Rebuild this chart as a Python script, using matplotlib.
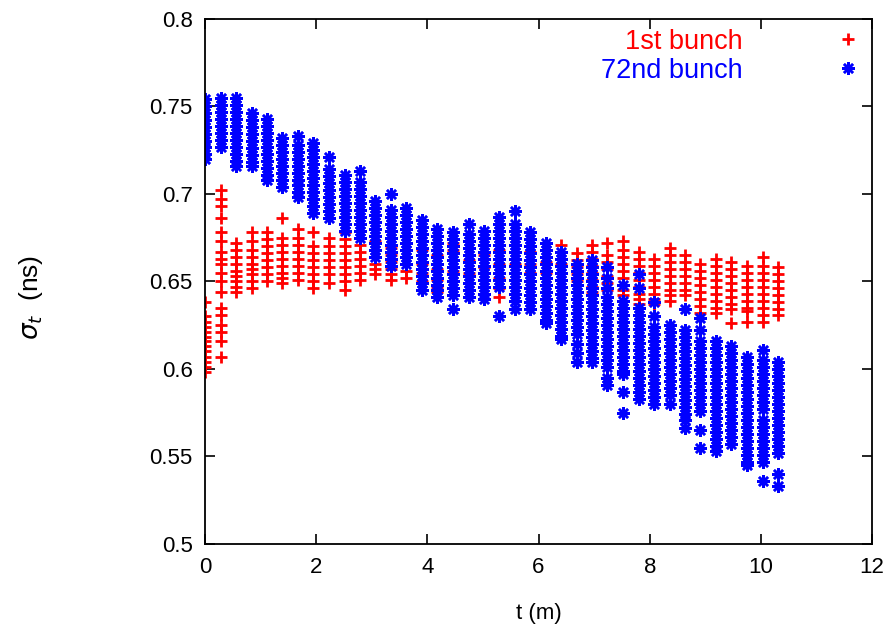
import numpy as np
import matplotlib
matplotlib.use('Agg')
import matplotlib.pyplot as plt

plt.rcParams['font.family'] = ['Liberation Sans', 'DejaVu Sans']

# turn times (minutes), one column of bunch-length samples per turn
t_min = [0.00, 0.28, 0.56, 0.84, 1.11, 1.39, 1.67, 1.95, 2.23, 2.51,
         2.79, 3.06, 3.34, 3.62, 3.90, 4.18, 4.46, 4.74, 5.01, 5.29,
         5.57, 5.85, 6.13, 6.41, 6.69, 6.96, 7.24, 7.52, 7.80, 8.08,
         8.36, 8.64, 8.91, 9.19, 9.47, 9.75, 10.03, 10.31]

# sigma_t (ns) of the 1st bunch
sig_first = [
    [0.638, 0.630, 0.627, 0.624, 0.621, 0.618, 0.616, 0.613, 0.610, 0.607, 0.604, 0.601, 0.598],
    [0.702, 0.697, 0.693, 0.686, 0.678, 0.673, 0.667, 0.663, 0.660, 0.655, 0.650, 0.644, 0.635,
     0.631, 0.625, 0.621, 0.616, 0.607],
    [0.672, 0.668, 0.664, 0.660, 0.656, 0.653, 0.650, 0.647, 0.644],
    [0.678, 0.673, 0.668, 0.664, 0.660, 0.657, 0.654, 0.650, 0.646],
    [0.678, 0.674, 0.670, 0.666, 0.662, 0.658, 0.654, 0.650],
    [0.686, 0.675, 0.671, 0.667, 0.663, 0.659, 0.655, 0.652, 0.649],
    [0.680, 0.675, 0.671, 0.667, 0.663, 0.659, 0.655, 0.651],
    [0.678, 0.670, 0.666, 0.662, 0.658, 0.654, 0.650, 0.646],
    [0.675, 0.670, 0.666, 0.662, 0.658, 0.654, 0.649],
    [0.678, 0.674, 0.670, 0.666, 0.662, 0.658, 0.654, 0.650, 0.645],
    [0.675, 0.671, 0.667, 0.663, 0.659, 0.655, 0.651],
    [0.673, 0.668, 0.664, 0.660, 0.657, 0.654],
    [0.669, 0.665, 0.661, 0.657, 0.654, 0.651],
    [0.668, 0.664, 0.660, 0.656, 0.652],
    [0.668, 0.660, 0.655, 0.650],
    [0.665, 0.657, 0.651, 0.647, 0.644],
    [0.672, 0.668, 0.662, 0.656],
    [0.662, 0.655],
    [0.665, 0.658],
    [0.668, 0.660, 0.652, 0.646, 0.641],
    [0.675, 0.667, 0.660],
    [0.667, 0.660, 0.655],
    [0.668, 0.661, 0.655],
    [0.671, 0.667, 0.663, 0.660],
    [0.666, 0.662, 0.658, 0.654, 0.650],
    [0.671, 0.667, 0.663, 0.659, 0.655, 0.651, 0.647, 0.644],
    [0.672, 0.665, 0.661, 0.657, 0.653, 0.649, 0.645, 0.641],
    [0.673, 0.668, 0.664, 0.660, 0.656, 0.652, 0.648, 0.645, 0.642],
    [0.667, 0.663, 0.659, 0.655, 0.651, 0.647, 0.643, 0.640, 0.637],
    [0.663, 0.659, 0.655, 0.651, 0.647, 0.643, 0.640, 0.637],
    [0.669, 0.665, 0.661, 0.657, 0.653, 0.649, 0.645, 0.642, 0.639],
    [0.665, 0.661, 0.657, 0.653, 0.649, 0.645, 0.642],
    [0.660, 0.656, 0.652, 0.648, 0.644, 0.640, 0.636, 0.632],
    [0.663, 0.659, 0.655, 0.651, 0.647, 0.643, 0.639, 0.635, 0.632],
    [0.661, 0.657, 0.653, 0.649, 0.645, 0.641, 0.637, 0.634, 0.626],
    [0.659, 0.655, 0.651, 0.647, 0.643, 0.639, 0.635, 0.633, 0.627],
    [0.664, 0.659, 0.655, 0.651, 0.647, 0.643, 0.639, 0.635, 0.631, 0.627],
    [0.658, 0.654, 0.650, 0.646, 0.642, 0.638, 0.634, 0.631],
]

# sigma_t (ns) of the 72nd bunch
sig_72nd = [
    [0.754, 0.750, 0.746, 0.742, 0.738, 0.734, 0.730, 0.727, 0.723, 0.720],
    [0.755, 0.751, 0.747, 0.743, 0.739, 0.735, 0.731, 0.727],
    [0.755, 0.751, 0.747, 0.743, 0.739, 0.735, 0.731, 0.727, 0.723, 0.719, 0.716],
    [0.746, 0.742, 0.738, 0.734, 0.730, 0.726, 0.722, 0.718, 0.716],
    [0.743, 0.739, 0.735, 0.731, 0.727, 0.723, 0.719, 0.715, 0.711, 0.708],
    [0.732, 0.728, 0.724, 0.720, 0.716, 0.712, 0.708, 0.704],
    [0.733, 0.728, 0.724, 0.720, 0.716, 0.712, 0.708, 0.705, 0.701, 0.698],
    [0.729, 0.725, 0.721, 0.717, 0.713, 0.709, 0.705, 0.701, 0.697, 0.693, 0.689],
    [0.721, 0.714, 0.710, 0.706, 0.702, 0.698, 0.694, 0.690, 0.686],
    [0.711, 0.707, 0.703, 0.699, 0.695, 0.691, 0.687, 0.683, 0.679],
    [0.713, 0.707, 0.703, 0.699, 0.695, 0.691, 0.687, 0.683, 0.679, 0.675],
    [0.696, 0.692, 0.688, 0.684, 0.680, 0.676, 0.672, 0.668, 0.664],
    [0.700, 0.691, 0.687, 0.683, 0.679, 0.675, 0.671, 0.667, 0.663, 0.659],
    [0.692, 0.688, 0.684, 0.680, 0.676, 0.672, 0.668, 0.664, 0.660],
    [0.685, 0.681, 0.677, 0.673, 0.669, 0.665, 0.661, 0.657, 0.653, 0.649, 0.645],
    [0.680, 0.676, 0.672, 0.668, 0.664, 0.660, 0.656, 0.652, 0.648, 0.645, 0.641],
    [0.678, 0.674, 0.670, 0.666, 0.662, 0.658, 0.654, 0.650, 0.646, 0.642, 0.634],
    [0.683, 0.677, 0.673, 0.669, 0.665, 0.661, 0.657, 0.653, 0.649, 0.645, 0.641],
    [0.679, 0.675, 0.671, 0.667, 0.663, 0.659, 0.655, 0.651, 0.647, 0.643, 0.640],
    [0.687, 0.683, 0.679, 0.675, 0.671, 0.667, 0.663, 0.659, 0.655, 0.651, 0.647, 0.630],
    [0.690, 0.683, 0.679, 0.675, 0.671, 0.667, 0.663, 0.659, 0.655, 0.651, 0.647, 0.643,
     0.639, 0.634],
    [0.678, 0.674, 0.670, 0.666, 0.662, 0.658, 0.654, 0.650, 0.646, 0.642, 0.638, 0.634],
    [0.672, 0.668, 0.664, 0.660, 0.656, 0.652, 0.648, 0.644, 0.640, 0.636, 0.632, 0.628, 0.626],
    [0.667, 0.663, 0.659, 0.655, 0.651, 0.647, 0.643, 0.639, 0.635, 0.631, 0.627, 0.623,
     0.619, 0.617],
    [0.660, 0.656, 0.652, 0.648, 0.644, 0.640, 0.636, 0.632, 0.628, 0.624, 0.620, 0.614,
     0.609, 0.604],
    [0.662, 0.658, 0.654, 0.650, 0.646, 0.642, 0.638, 0.634, 0.630, 0.626, 0.622, 0.618,
     0.614, 0.610, 0.606, 0.604],
    [0.658, 0.652, 0.646, 0.641, 0.637, 0.633, 0.629, 0.625, 0.621, 0.617, 0.613, 0.609,
     0.605, 0.601, 0.595, 0.591],
    [0.648, 0.639, 0.635, 0.631, 0.627, 0.623, 0.619, 0.615, 0.611, 0.607, 0.603, 0.599,
     0.597, 0.587, 0.575],
    [0.654, 0.646, 0.635, 0.631, 0.627, 0.623, 0.619, 0.615, 0.611, 0.607, 0.603, 0.599,
     0.595, 0.591, 0.587, 0.583],
    [0.638, 0.630, 0.624, 0.620, 0.616, 0.612, 0.608, 0.604, 0.600, 0.596, 0.592, 0.588,
     0.584, 0.580],
    [0.625, 0.621, 0.617, 0.613, 0.609, 0.605, 0.601, 0.597, 0.593, 0.589, 0.585, 0.580],
    [0.634, 0.622, 0.618, 0.614, 0.610, 0.606, 0.602, 0.598, 0.594, 0.590, 0.586, 0.582,
     0.578, 0.574, 0.571, 0.566],
    [0.629, 0.622, 0.616, 0.612, 0.608, 0.604, 0.600, 0.596, 0.592, 0.588, 0.584, 0.580,
     0.576, 0.565, 0.555],
    [0.616, 0.612, 0.608, 0.604, 0.600, 0.596, 0.592, 0.588, 0.584, 0.580, 0.576, 0.572,
     0.568, 0.564, 0.560, 0.556, 0.553],
    [0.613, 0.609, 0.605, 0.601, 0.597, 0.593, 0.589, 0.585, 0.581, 0.577, 0.573, 0.569,
     0.565, 0.561, 0.557],
    [0.607, 0.603, 0.599, 0.595, 0.591, 0.587, 0.583, 0.579, 0.575, 0.571, 0.567, 0.563,
     0.559, 0.555, 0.551, 0.547, 0.545],
    [0.611, 0.605, 0.601, 0.597, 0.593, 0.589, 0.585, 0.581, 0.577, 0.571, 0.567, 0.563,
     0.559, 0.555, 0.551, 0.547, 0.536],
    [0.604, 0.600, 0.596, 0.592, 0.588, 0.584, 0.580, 0.576, 0.572, 0.568, 0.564, 0.560,
     0.556, 0.552, 0.540, 0.533],
]


def flatten(times, cols):
    x = []
    y = []
    for t, col in zip(times, cols):
        x += [t] * len(col)
        y += col
    return np.array(x), np.array(y)


x1, y1 = flatten(t_min, sig_first)
x72, y72 = flatten(t_min, sig_72nd)

fig = plt.figure(figsize=(8.89, 6.33), dpi=100)
ax = fig.add_axes([0.2306, 0.1406, 0.7504, 0.8294])

ax.plot(x1, y1, ls='none', marker='+', ms=9, mew=2.0, color='#ff0000',
        label='1st bunch')
ax.plot(x72, y72, ls='none', marker=(8, 2, 0), ms=9, mew=1.8, color='#0000ff',
        label='72nd bunch')

ax.set_xlim(0, 12)
ax.set_ylim(0.5, 0.8)
ax.set_xticks([0, 2, 4, 6, 8, 10, 12])
ax.set_yticks([0.5, 0.55, 0.6, 0.65, 0.7, 0.75, 0.8])
ax.set_yticklabels(['0.5', '0.55', '0.6', '0.65', '0.7', '0.75', '0.8'])
ax.tick_params(direction='in', top=True, right=True, length=7, width=1.2,
               labelsize=16, pad=9)
for s in ax.spines.values():
    s.set_linewidth(1.3)

ax.set_xlabel('t (m)', fontsize=16, labelpad=18)
ax.set_ylabel(r'$\sigma_t$  (ns)', fontsize=19)
ax.yaxis.set_label_coords(-0.24, 0.47)

leg = ax.legend(loc='upper right', bbox_to_anchor=(1.025, 1.028), frameon=False,
                markerfirst=False, fontsize=19.5, handlelength=1.2,
                handletextpad=3.3, labelspacing=0.12,
                labelcolor=['#ff0000', '#0000ff'])

fig.savefig('out.png', dpi=100)
